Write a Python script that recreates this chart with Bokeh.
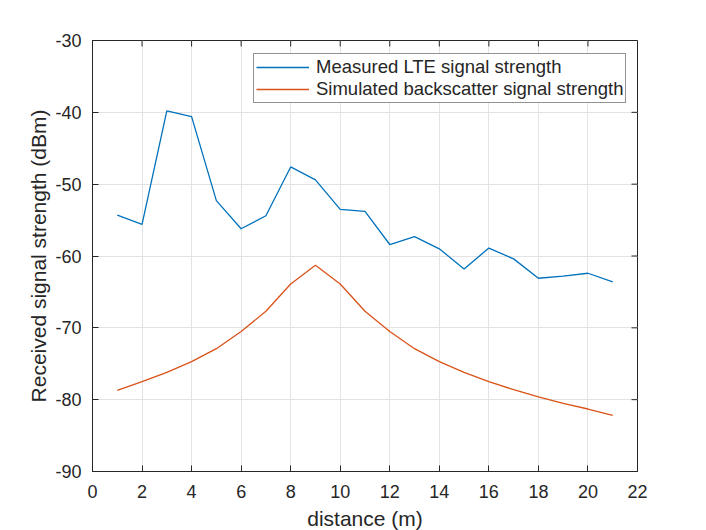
import math
from bokeh.plotting import figure
from bokeh.models import Range1d, FixedTicker, Legend, LegendItem, PrintfTickFormatter
from bokeh.embed import file_html
from bokeh.resources import INLINE

distance = list(range(1, 22))
measured_lte = [-54.3, -55.6, -39.8, -40.6, -52.3, -56.2, -54.4, -47.6, -49.4, -53.5,
                -53.8, -58.4, -57.3, -59.0, -61.8, -58.9, -60.4, -63.1, -62.8, -62.4, -63.6]
simulated_bs = [-78.7, -77.5, -76.2, -74.7, -72.9, -70.5, -67.7, -63.9, -61.3, -63.9,
                -67.7, -70.5, -72.9, -74.7, -76.2, -77.5, -78.6, -79.6, -80.5, -81.3, -82.2]
x_limits = (0, 22)
y_limits = (-90, -30)
x_ticks = list(range(0, 23, 2))
y_ticks = list(range(-90, -29, 10))

FONT = "Liberation Sans"
DARK = "#262626"

p = figure(width=706, height=530, output_backend="svg", toolbar_location=None,
           x_range=Range1d(*x_limits), y_range=Range1d(*y_limits),
           min_border_left=92, min_border_top=40, min_border_right=69, min_border_bottom=59,
           background_fill_color="white", border_fill_color="white")
p.frame_width = 545
p.frame_height = 431

p.outline_line_color = DARK
p.outline_line_width = 1

for ax in (p.xaxis[0], p.yaxis[0]):
    ax.major_tick_in = 6
    ax.major_tick_out = 0
    ax.minor_tick_line_color = None
    ax.axis_line_color = DARK
    ax.major_tick_line_color = DARK
    ax.major_label_text_color = DARK
    ax.major_label_text_font = FONT
    ax.major_label_text_font_size = "18px"
    ax.axis_label_text_font = FONT
    ax.axis_label_text_font_size = "21px"
    ax.axis_label_text_font_style = "normal"
    ax.axis_label_text_color = DARK
    ax.formatter = PrintfTickFormatter(format="%d")

p.xaxis[0].ticker = FixedTicker(ticks=x_ticks)
p.yaxis[0].ticker = FixedTicker(ticks=y_ticks)
p.xaxis[0].axis_label = "distance (m)"
p.yaxis[0].axis_label = "Received signal strength (dBm)"
p.xaxis[0].major_label_standoff = 13
p.yaxis[0].major_label_standoff = 11
p.xaxis[0].axis_label_standoff = 6
p.yaxis[0].axis_label_standoff = 2

p.xgrid.ticker = FixedTicker(ticks=x_ticks)
p.ygrid.ticker = FixedTicker(ticks=y_ticks)
p.grid.grid_line_color = "#e3e3e3"
p.grid.grid_line_width = 1

# inner ticks on the top and right edges of the box
p.ray(x=x_ticks, y=[y_limits[1]] * len(x_ticks), length=6, length_units="screen",
      angle=-math.pi / 2, line_color=DARK, line_width=1)
p.ray(x=[x_limits[1]] * len(y_ticks), y=y_ticks, length=6, length_units="screen",
      angle=math.pi, line_color=DARK, line_width=1)

r1 = p.line(distance, measured_lte, line_color="#0072BD", line_width=1.3)
r2 = p.line(distance, simulated_bs, line_color="#D95319", line_width=1.3)

legend = Legend(items=[LegendItem(label="Measured LTE signal strength", renderers=[r1]),
                       LegendItem(label="Simulated backscatter signal strength", renderers=[r2])],
                location=(161, 368), margin=0, padding=2, spacing=0,
                glyph_width=53, glyph_height=20, label_height=20, label_standoff=7,
                label_text_font=FONT, label_text_font_size="18.5px", label_text_color=DARK,
                border_line_color=DARK, border_line_width=1,
                background_fill_color="white", background_fill_alpha=1)
p.add_layout(legend, "center")

open("out.html", "w").write(file_html(p, INLINE))
